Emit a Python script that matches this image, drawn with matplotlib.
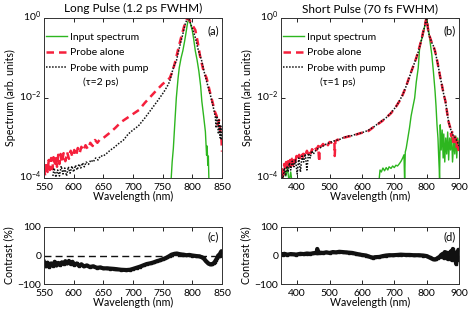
import matplotlib
matplotlib.use("Agg")
import matplotlib.pyplot as plt
import matplotlib.transforms as mtransforms
import numpy as np

plt.rcParams['font.family'] = ['Lato', 'DejaVu Sans']
plt.rcParams['mathtext.fontset'] = 'custom'
plt.rcParams['mathtext.rm'] = 'Lato'
plt.rcParams['mathtext.it'] = 'Lato:italic'
plt.rcParams['axes.linewidth'] = 0.7

GREEN = "#2db61f"
RED = "#f5203c"
BLACK = "#111111"

# ---------- panel (a): long pulse, spectra as log10 values ----------
wl_a_probe = [550, 552, 554, 556, 558, 560, 562, 564, 566, 568, 570, 572, 574, 576, 578, 580,
              583, 586, 589, 592, 595, 598, 601, 604, 607, 610, 613, 616, 620, 624, 628, 632,
              636, 640, 645, 650, 660, 670, 680, 690, 700, 710, 720, 730, 740, 750, 756, 762,
              766, 770, 775, 781, 786, 789, 792, 795, 798, 801, 805, 809, 813, 819, 824, 830,
              834, 838, 841, 843, 845, 847, 849, 850]
probe_a_log = [-3.75, -3.95, -3.6, -3.85, -3.55, -3.8, -3.5, -3.78, -3.48, -3.7, -3.45, -3.72,
               -3.42, -3.65, -3.4, -3.62, -3.38, -3.58, -3.35, -3.52, -3.32, -3.48, -3.3, -3.45,
               -3.25, -3.38, -3.22, -3.32, -3.18, -3.28, -3.12, -3.2, -3.05, -3.12, -3.02, -3.0,
               -2.88, -2.75, -2.6, -2.5, -2.4, -2.3, -2.12, -1.96, -1.8, -1.65, -1.58, -1.5,
               -1.35, -1.16, -0.85, -0.49, -0.22, -0.07, 0.0, -0.05, -0.12, -0.2, -0.3, -0.6,
               -0.95, -1.33, -1.5, -1.87, -2.1, -2.34, -2.45, -2.67, -2.55, -2.8, -3.0, -3.34]

wl_a_pump = [565, 567, 570, 573, 576, 579, 582, 585, 588, 591, 594, 597, 600, 603, 606, 609,
             612, 615, 618, 621, 625, 629, 633, 637, 641, 645, 650, 656, 662, 668, 675, 684,
             692, 700, 709, 720, 730, 741, 752, 758, 762, 766, 769, 773, 778, 784, 788, 792,
             795, 798, 801, 805, 810, 816, 820, 824, 828, 831, 834, 837, 839, 840, 841, 843,
             844, 845, 846, 847, 848, 849, 850]
pump_a_log = [-3.95, -3.75, -3.98, -3.8, -3.95, -3.7, -3.9, -3.75, -3.95, -3.72, -3.88, -3.7,
              -3.85, -3.68, -3.8, -3.65, -3.75, -3.62, -3.72, -3.6, -3.66, -3.55, -3.6, -3.5,
              -3.55, -3.45, -3.45, -3.38, -3.3, -3.24, -3.15, -3.05, -2.9, -2.8, -2.7, -2.5,
              -2.3, -2.08, -1.85, -1.7, -1.58, -1.35, -1.2, -1.08, -0.75, -0.4, -0.15, 0.0,
              -0.05, -0.18, -0.3, -0.49, -0.8, -1.08, -1.35, -1.58, -1.8, -1.96, -2.15, -2.34,
              -2.5, -2.75, -2.45, -2.6, -2.9, -2.55, -2.76, -3.0, -2.7, -3.05, -2.9]

wl_a_input = [764, 766, 768, 770, 773, 776, 778, 781, 784, 787, 789, 792, 795, 797, 800, 802,
              805, 808, 811, 814, 816, 819, 822, 824, 825, 826, 827, 828]
input_a_log = [-4.1, -3.6, -3.26, -2.75, -2.0, -1.5, -1.24, -1.0, -0.82, -0.58, -0.4, -0.12,
               0.0, -0.15, -0.32, -0.5, -0.82, -1.05, -1.33, -1.7, -2.08, -2.45, -2.84, -3.43,
               -3.2, -3.68, -3.45, -4.1]

# ---------- panel (b): short pulse ----------
wl_b_probe = [350, 352, 354, 356, 358, 360, 363, 366, 369, 372, 375, 378, 381, 384, 387, 390,
              394, 398, 402, 406, 410, 414, 418, 422, 426, 430, 434, 438, 442, 446, 450, 455,
              460, 465, 468, 470, 475, 480, 485, 490, 495, 500, 505, 510, 515, 516, 518, 525,
              532, 540, 550, 560, 570, 580, 595, 610, 621, 637, 650, 662, 674, 690, 705, 716,
              726, 737, 747, 758, 768, 776, 784, 790, 795, 798, 800, 803, 806, 811, 816, 821,
              826, 832, 837, 842, 847, 852, 858, 863, 868, 873, 876, 879, 882, 884, 887, 889,
              892, 895, 898, 900]
probe_b_log = [-3.95, -3.7, -4.05, -3.75, -3.9, -3.65, -3.8, -3.6, -3.78, -3.58, -3.72, -3.55,
               -3.7, -3.52, -3.68, -3.5, -3.6, -3.45, -3.55, -3.42, -3.5, -3.38, -3.47, -3.35,
               -3.42, -3.32, -3.4, -3.3, -3.38, -3.28, -3.33, -3.24, -3.3, -3.2, -3.6, -3.22,
               -3.2, -3.15, -3.2, -3.13, -3.18, -3.1, -3.12, -3.06, -3.1, -3.45, -3.08, -3.04,
               -3.06, -3.0, -2.98, -2.96, -2.94, -2.92, -2.88, -2.85, -2.82, -2.72, -2.65, -2.58,
               -2.5, -2.38, -2.22, -2.08, -1.92, -1.7, -1.46, -1.22, -1.0, -0.78, -0.54, -0.32,
               -0.17, -0.05, 0.0, -0.2, -0.38, -0.5, -0.62, -0.7, -0.83, -1.05, -1.25, -1.48,
               -1.67, -1.88, -2.08, -2.35, -2.6, -2.75, -2.95, -2.85, -3.1, -2.92, -3.15, -3.0,
               -3.25, -3.05, -3.3, -3.15]

wl_b_pump = [352, 356, 360, 364, 368, 372, 376, 380, 385, 390, 395, 400, 405, 410, 415, 420,
             425, 430, 435, 440, 445, 450, 460, 470, 480, 490, 500, 510, 520, 530, 540, 550,
             560, 570, 580, 595, 610, 621, 637, 650, 662, 674, 690, 705, 716, 726, 737, 747,
             758, 768, 776, 784, 790, 795, 798, 800, 803, 806, 811, 816, 821, 826, 832, 837,
             842, 847, 852, 858, 863, 868, 873, 879, 884, 889, 895, 900]
pump_b_log = [-3.9, -4.05, -3.75, -3.95, -3.7, -3.85, -3.62, -3.8, -3.58, -3.72, -3.55, -3.9,
              -3.5, -3.85, -3.45, -3.6, -3.4, -3.8, -3.38, -3.5, -3.32, -3.4, -3.28, -3.25,
              -3.2, -3.15, -3.12, -3.08, -3.06, -3.04, -3.0, -2.97, -2.95, -2.94, -2.91, -2.88,
              -2.84, -2.8, -2.72, -2.64, -2.57, -2.5, -2.37, -2.22, -2.07, -1.92, -1.7, -1.47,
              -1.22, -1.0, -0.8, -0.55, -0.33, -0.17, -0.05, 0.0, -0.2, -0.38, -0.5, -0.62,
              -0.7, -0.83, -1.05, -1.25, -1.48, -1.67, -1.88, -2.08, -2.35, -2.6, -2.75, -2.9,
              -2.95, -3.0, -3.1, -3.2]

wl_b_input = [350, 355, 360, 365, 370, 375, 380, 384, 386, 653, 656, 660, 665, 670, 675, 680,
              684, 690, 695, 700, 705, 710, 716, 721, 726, 730, 732, 734, 737, 742, 747, 752,
              758, 763, 768, 774, 777, 779, 784, 789, 794, 797, 800, 804, 808, 812, 816, 821,
              826, 829, 832, 835, 837, 839, 840, 842, 845, 848, 851, 853, 856, 859, 862, 865,
              868, 871, 874, 877, 880, 884, 887, 890, 893, 896, 900]
input_b_log = [-3.9, -4.1, -3.8, -3.95, -3.75, -4.1, -3.85, -4.1, np.nan, -4.05, -3.8, -3.85,
               -3.75, -3.82, -3.74, -3.8, -3.72, -3.76, -3.7, -3.74, -3.68, -3.7, -3.64, -3.58,
               -3.5, -3.42, -4.1, -3.35, -3.25, -3.0, -2.75, -2.45, -2.2, -2.0, -1.6, -1.25,
               -0.9, -0.67, -0.55, -0.42, -0.2, -0.05, 0.0, -0.2, -0.42, -0.68, -0.92, -1.35,
               -1.83, -2.2, -2.67, -3.0, -3.42, -3.8, -4.1, -2.67, -3.3, -2.8, -3.5, -2.9,
               -3.6, -3.0, -3.4, -2.85, -3.55, -3.0, -3.3, -2.9, -3.6, -3.05, -3.4, -2.95,
               -3.5, -3.0, -3.2]

# ---------- contrast panels (%) ----------
wl_c = [550, 553, 556, 559, 562, 565, 568, 571, 574, 577, 580, 583, 586, 589, 592, 595, 598,
        601, 605, 609, 613, 617, 622, 627, 633, 639, 645, 650, 656, 662, 668, 672, 680, 689,
        695, 700, 706, 712, 718, 723, 730, 735, 740, 745, 750, 754, 758, 762, 765, 770, 774,
        780, 785, 790, 795, 800, 807, 812, 816, 819, 823, 827, 830, 833, 836, 838, 840, 842,
        844, 846, 847, 849, 850]
contrast_c = [-22, -38, -25, -40, -28, -36, -22, -35, -26, -33, -24, -30, -20, -28, -19, -30,
              -22, -33, -28, -36, -31, -38, -35, -40, -38, -43, -42, -45, -45, -46, -47, -48,
              -50, -51, -50, -47, -43, -39, -34, -30, -27, -24, -20, -17, -13, -10, -6, -1, 3,
              6, 7, 4, 3, 1, 2, 0, -2, -3, -6, -10, -20, -28, -31, -31, -27, -22, -15, -8, 1,
              -3, 8, 15, 12]

wl_d = [350, 355, 360, 370, 380, 390, 396, 410, 420, 430, 440, 450, 458, 460, 462, 464, 470,
        480, 490, 500, 510, 520, 530, 541, 550, 560, 570, 582, 590, 600, 613, 620, 628, 634,
        640, 654, 665, 675, 685, 696, 710, 720, 735, 747, 760, 775, 789, 800, 809, 815, 820,
        825, 830, 835, 840, 845, 850, 853, 856, 859, 862, 865, 868, 871, 874, 877, 880, 881,
        884, 887, 890, 891, 893, 896, 898, 900]
contrast_d = [5, 2, 6, 3, 5, 4, 3, 6, 5, 7, 6, 8, 9, 10, 23, 9, 10, 9, 11, 9, 12, 11, 13, 12,
              11, 10, 9, 6, 4, 2, 0, -3, -6, -8, -6, -5, -2, 0, 1, 1, 2, 3, 2, 2, 1, 1, 0, -2,
              -7, -10, -13, -14, -12, -8, -5, 2, 6, -8, 12, -5, 10, -12, 8, -6, 14, -15, 5, 23,
              -10, 8, -20, -29, 12, -15, 20, -5]

W, H = 469, 315
fig = plt.figure(figsize=(W / 100, H / 100), dpi=100)


def px_axes(x0, y0, x1, y1):
    return fig.add_axes([x0 / W, 1 - y1 / H, (x1 - x0) / W, (y1 - y0) / H])


ax_a = px_axes(44, 18, 222, 178)
ax_b = px_axes(281, 18, 459, 178)
ax_c = px_axes(44, 227, 222, 284)
ax_d = px_axes(281, 227, 459, 284)

FS = 7.5
LFS = 7.7


def style(ax):
    ax.tick_params(direction='in', top=True, right=True, length=3, width=0.6,
                   labelsize=FS, pad=2)
    ax.tick_params(axis='x', pad=3.6)
    ax.minorticks_off()
    for s in ax.spines.values():
        s.set_color('#333333')


def spectrum_panel(ax, wl_in, v_in, wl_pr, v_pr, wl_pu, v_pu, xlim, xticks, title, tag, tau):
    ax.plot(wl_in, 10 ** np.array(v_in, dtype=float), color=GREEN, lw=1.0, label='Input spectrum')
    ax.plot(wl_pr, 10 ** np.array(v_pr), color=RED, lw=1.8, ls=(0, (3, 2)), label='Probe alone')
    ax.plot(wl_pu, 10 ** np.array(v_pu), color=BLACK, lw=1.1, ls=(0, (1, 1)), label='Probe with pump')
    ax.set_yscale('log')
    ax.set_ylim(1e-4, 1)
    ax.set_xlim(*xlim)
    ax.set_xticks(xticks)
    ax.set_yticks([1e-4, 1e-2, 1])
    ax.set_yticklabels([r'$10^{-4}$', r'$10^{-2}$', r'$10^{0}$'])
    style(ax)
    # lift the y labels a little so the bottom one clears the x tick labels
    lift = mtransforms.ScaledTranslation(0, 0.03, fig.dpi_scale_trans)
    for lab in ax.get_yticklabels():
        lab.set_transform(lab.get_transform() + lift)
    ax.set_xlabel('Wavelength (nm)', fontsize=LFS, labelpad=-0.5)
    ax.set_ylabel('Spectrum (arb. units)', fontsize=LFS, labelpad=2)
    ax.set_title(title, fontsize=8.5, pad=4)
    ax.text(0.95, 0.92, tag, transform=ax.transAxes, ha='center', va='center', fontsize=FS + 0.5)
    ax.legend(loc='upper left', bbox_to_anchor=(-0.01, 0.935), frameon=False,
              fontsize=FS, handlelength=2.0, handletextpad=0.3, labelspacing=0.6,
              borderaxespad=0)
    ax.text(0.32, 0.6, tau, transform=ax.transAxes, ha='center', va='center', fontsize=FS)


spectrum_panel(ax_a, wl_a_input, input_a_log, wl_a_probe, probe_a_log, wl_a_pump, pump_a_log,
               (550, 850), range(550, 851, 50), 'Long Pulse (1.2 ps FWHM)', '(a)', '(τ=2 ps)')
spectrum_panel(ax_b, wl_b_input, input_b_log, wl_b_probe, probe_b_log, wl_b_pump, pump_b_log,
               (350, 900), range(400, 901, 100), 'Short Pulse (70 fs FWHM)', '(b)', '(τ=1 ps)')


def contrast_panel(ax, wl, vals, xlim, xticks, tag, dashed):
    if dashed:
        ax.plot([wl[0], 845], [0, 0], color=BLACK, lw=1.0, ls=(0, (5, 3)))
    ax.plot(wl, vals, color=BLACK, lw=3.0, solid_joinstyle='round')
    ax.plot(wl, vals, ls='none', marker='s', ms=2.0, color=BLACK)
    ax.set_xlim(*xlim)
    ax.set_ylim(-100, 100)
    ax.set_xticks(xticks)
    ax.set_yticks([-100, 0, 100])
    ax.set_yticklabels(['\u2212100', '0', '100'])
    style(ax)
    ax.set_xlabel('Wavelength (nm)', fontsize=LFS, labelpad=-0.5)
    ax.set_ylabel('Contrast (%)', fontsize=LFS, labelpad=2)
    ax.text(0.95, 0.82, tag, transform=ax.transAxes, ha='center', va='center', fontsize=FS + 0.5)


contrast_panel(ax_c, wl_c, contrast_c, (550, 850), range(550, 851, 50), '(c)', True)
contrast_panel(ax_d, wl_d, contrast_d, (350, 900), range(400, 901, 100), '(d)', False)

fig.savefig('out.png', dpi=100)
